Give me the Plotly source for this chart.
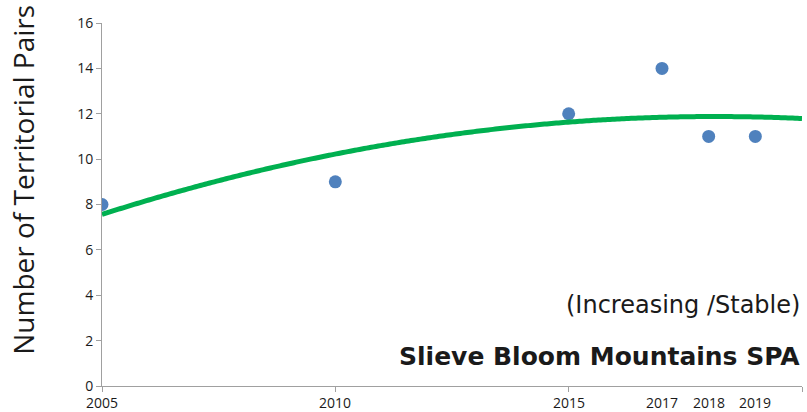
import numpy as np
import plotly.graph_objects as go

# Survey years and territorial pair counts
years = [2005, 2010, 2015, 2017, 2018, 2019]
pairs = [8, 9, 12, 14, 11, 11]

# Axis tick marks and year labels
tick_years = [2005, 2010, 2015, 2020]
label_years = [2005, 2010, 2015, 2017, 2018, 2019]
y_ticks = [0, 2, 4, 6, 8, 10, 12, 14, 16]

# Second-order polynomial trend over the survey period
coef = np.polyfit(np.array(years) - 2005, pairs, 2)
trend_x = np.linspace(2005, 2020, 300)
trend_y = np.polyval(coef, trend_x - 2005)

fig = go.Figure()
fig.add_trace(go.Scatter(
    x=years, y=pairs, mode="markers",
    marker=dict(color="#4F81BD", size=13, line=dict(width=0)),
    hoverinfo="x+y", showlegend=False,
))
fig.add_trace(go.Scatter(
    x=trend_x, y=trend_y, mode="lines",
    line=dict(color="#00B050", width=5, simplify=False),
    hoverinfo="skip", showlegend=False,
))

fig.update_layout(
    width=807, height=412,
    margin=dict(l=102, r=5, t=23, b=26),
    paper_bgcolor="white", plot_bgcolor="white",
    font=dict(family="Open Sans", color="#1a1a1a"),
    xaxis=dict(
        range=[2005, 2020], tickvals=tick_years, showticklabels=False,
        ticks="outside", ticklen=5, tickcolor="#a0a0a0", tickwidth=1,
        showline=True, linecolor="#a0a0a0", linewidth=1,
        showgrid=False, zeroline=False, fixedrange=True,
    ),
    yaxis=dict(
        range=[0, 16], tickvals=y_ticks,
        ticks="outside", ticklen=5, tickcolor="#a0a0a0", tickwidth=1,
        showline=True, linecolor="#a0a0a0", linewidth=1,
        showgrid=False, zeroline=False, fixedrange=True,
        tickfont=dict(size=14, family="Open Sans", color="#1a1a1a"),
    ),
)

# Year labels beneath the axis
for yr in label_years:
    fig.add_annotation(
        x=yr, y=0, xref="x", yref="paper", yshift=-16,
        text=str(yr), showarrow=False, borderpad=0,
        font=dict(size=14, family="Open Sans", color="#1a1a1a"),
        xanchor="center", yanchor="middle",
    )

# Vertical axis title
fig.add_annotation(
    x=-0.112, y=0.567, xref="paper", yref="paper",
    text="Number of Territorial Pairs", textangle=-90, showarrow=False,
    font=dict(size=28, family="Open Sans", color="#1a1a1a"),
    xanchor="center", yanchor="middle",
)

# Site name and trend status
fig.add_annotation(
    x=1.0, y=(386 - 305) / 363, xref="paper", yref="paper",
    text="(Increasing /Stable)", showarrow=False,
    font=dict(size=24, family="DejaVu Sans", color="#1a1a1a"),
    xanchor="right", yanchor="middle",
)
fig.add_annotation(
    x=1.0, y=(386 - 356) / 363, xref="paper", yref="paper",
    text="<b>Slieve Bloom Mountains SPA</b>", showarrow=False,
    font=dict(size=25, family="DejaVu Sans", color="#1a1a1a"),
    xanchor="right", yanchor="middle",
)

fig.write_html("out.html")
